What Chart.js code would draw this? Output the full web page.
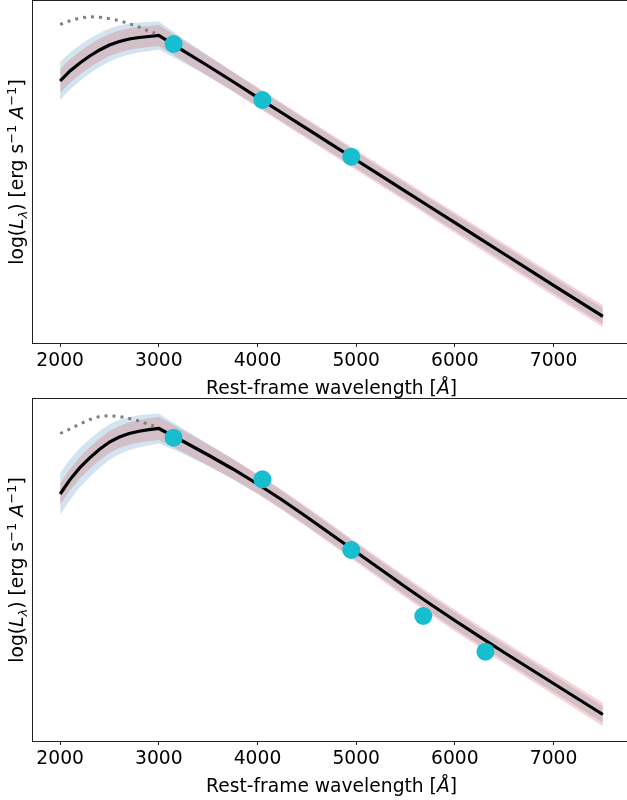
<!DOCTYPE html>
<html>
<head>
<meta charset="utf-8">
<script src="https://cdn.jsdelivr.net/npm/chart.js@4.4.0/dist/chart.umd.min.js"></script>
<style>
    html, body { margin: 0; padding: 0; background: #fff; overflow: hidden; }
    .panel { position: absolute; left: 0; }
    #panel-top { top: 0; }
    #panel-bottom { top: 398px; }
</style>
</head>
<body>
<div class="panel" id="panel-top"><canvas id="sedTop" width="632" height="398"></canvas></div>
<div class="panel" id="panel-bottom"><canvas id="sedBottom" width="632" height="398"></canvas></div>
<script>
// Wavelength grid of the model curves (Angstrom)
const waveGrid = [2000, 2100, 2200, 2300, 2400, 2500, 2600, 2700, 2800, 2900, 3000,
                  3250, 3500, 3750, 4000, 4250, 4500, 4750, 5000, 5250, 5500,
                  5750, 6000, 6250, 6500, 6750, 7000, 7250, 7500];
const xTicks = [2000, 3000, 4000, 5000, 6000, 7000];

// Top panel - log L in arbitrary units (the axis has no numbers)
const topModel = [262, 272, 280, 287, 293, 298, 301.5, 304, 305.5, 306.5, 307.5,
                  292.2, 277, 261.5, 245.7, 230, 214.3, 198.6, 183, 167.3, 151.7,
                  136, 120.4, 104.7, 89, 73.4, 57.7, 42.2, 26.7];
const topBlueWidth = [19, 18.5, 18, 17.5, 17, 16.5, 16, 15.5, 15, 14.5, 14,
                      12, 10.5, 9.5, 9, 8.7, 8.5, 8.3, 8, 8, 8,
                      8, 8, 8, 8, 8, 8, 8, 8];
const topRedWidth = [12, 11.8, 11.6, 11.4, 11.2, 11, 10.9, 10.8, 10.7, 10.6, 10.5,
                     10.3, 10.1, 10, 10, 10, 10, 10, 10, 10, 10,
                     10.1, 10.3, 10.4, 10.5, 10.6, 10.7, 10.8, 11];
const topBbWave = [2000, 2100, 2200, 2300, 2400, 2500, 2600, 2700, 2800, 2900, 2960];
const topBb = [318.5, 322.2, 325, 326.3, 325.8, 324.3, 322.4, 319.3, 316, 311.6, 309.8];
const topPhotWave = [3150, 4050, 4950];
const topPhot = [299, 243, 186.3];

// Bottom panel
const botModel = [247, 261.4, 273.3, 283.1, 291.7, 299, 304, 307.5, 309.8, 311.3, 312.5,
                  299.5, 286, 272, 257, 241, 224, 206.5, 189, 171.5, 154,
                  137, 120.5, 104.3, 88.5, 73, 57.5, 42, 26.5];
const botBlueWidth = [21, 20.3, 19.6, 19, 18.4, 17.8, 17.2, 16.6, 16, 15.5, 15,
                      12.5, 11, 10, 9.3, 9, 8.7, 8.5, 8.4, 8.3, 8.3,
                      8.3, 8.3, 8.3, 8.3, 8.3, 8.3, 8.3, 8.3];
const botRedWidth = [10.5, 10.6, 10.7, 10.8, 10.9, 11, 11.1, 11.2, 11.3, 11.4, 11.5,
                     11, 10.6, 10.3, 10, 10, 10, 10, 10.1, 10.2, 10.4,
                     10.5, 10.7, 10.8, 11, 11.1, 11.3, 11.5, 11.7];
const botBbWave = [2000, 2100, 2200, 2300, 2400, 2500, 2600, 2700, 2800, 2900, 2950];
const botBb = [307.5, 312, 317, 321.5, 324.5, 325.3, 324.5, 322.5, 320, 316.5, 315];
const botPhotWave = [3150, 4050, 4950, 5680, 6310];
const botPhot = [303.3, 261.7, 191, 125, 89.3];

const FONT = '"DejaVu Sans", sans-serif';
const FONT_SIZE = 18.7;

// axis labels with italic / sub / superscript pieces
const yLabelParts = [
    { text: 'log(' },
    { text: 'L', italic: true },
    { text: 'λ', italic: true, shift: 'sub' },
    { text: ') [erg s' },
    { text: '\u22121', shift: 'sup' },
    { text: ' ' },
    { text: 'A', italic: true },
    { text: '\u22121', shift: 'sup' },
    { text: ']' }
];
const xLabelParts = [
    { text: 'Rest-frame wavelength [' },
    { text: 'Å', italic: true },
    { text: ']' }
];

function pts(xs, ys) {
    return xs.map((x, i) => ({ x: x, y: ys[i] }));
}

function band(model, width, sign) {
    return waveGrid.map((w, i) => ({ x: w, y: model[i] + sign * width[i] }));
}

function partFont(p) {
    const size = p.shift ? FONT_SIZE * 0.7 : FONT_SIZE;
    return (p.italic ? 'italic ' : '') + size + 'px ' + FONT;
}

function drawRich(ctx, parts) {
    // draws centred on x = 0, baseline y = 0
    let total = 0;
    parts.forEach(p => {
        ctx.font = partFont(p);
        total += ctx.measureText(p.text).width;
    });
    let x = -total / 2;
    ctx.textBaseline = 'alphabetic';
    ctx.textAlign = 'left';
    parts.forEach(p => {
        ctx.font = partFont(p);
        let dy = 0;
        if (p.shift === 'sub') dy = FONT_SIZE * 0.2;
        if (p.shift === 'sup') dy = -FONT_SIZE * 0.4;
        ctx.fillText(p.text, x, dy);
        x += ctx.measureText(p.text).width;
    });
}

const frameAndLabels = {
    id: 'frameAndLabels',
    afterDraw(chart) {
        const ctx = chart.ctx;
        const a = chart.chartArea;
        ctx.save();
        ctx.strokeStyle = '#222';
        ctx.lineWidth = 1;
        ctx.strokeRect(Math.round(a.left) - 0.5, Math.round(a.top) - 0.5,
                       Math.round(a.right - a.left) + 1, Math.round(a.bottom - a.top) + 1);
        ctx.fillStyle = '#000';

        // x axis title
        ctx.save();
        ctx.translate((a.left + a.right) / 2, a.bottom + 50.6);
        drawRich(ctx, xLabelParts);
        ctx.restore();

        // y axis title
        ctx.save();
        ctx.translate(a.left - 10, (a.top + a.bottom) / 2);
        ctx.rotate(-Math.PI / 2);
        drawRich(ctx, yLabelParts);
        ctx.restore();

        ctx.restore();
    }
};

function makeChart(id, model, blueW, redW, bbWave, bb, photWave, phot) {
    const hidden = { borderColor: 'rgba(0,0,0,0)', pointRadius: 0, fill: false };
    return new Chart(document.getElementById(id), {
        type: 'line',
        data: {
            datasets: [
                Object.assign({}, hidden, { data: band(model, blueW, -1), order: 7 }),
                Object.assign({}, hidden, { data: band(model, blueW, 1), order: 6,
                    fill: 0, backgroundColor: 'rgba(31,119,180,0.2)' }),
                Object.assign({}, hidden, { data: band(model, redW, -1), order: 5 }),
                Object.assign({}, hidden, { data: band(model, redW, 1), order: 4,
                    fill: 2, backgroundColor: 'rgba(214,39,40,0.2)' }),
                {
                    data: pts(waveGrid, model), order: 3,
                    borderColor: '#000', borderWidth: 3.2, pointRadius: 0, fill: false
                },
                {
                    data: pts(bbWave, bb), order: 2,
                    borderColor: '#808080', borderWidth: 3, borderDash: [3, 5],
                    borderCapStyle: 'butt', pointRadius: 0, fill: false
                },
                {
                    data: pts(photWave, phot), order: 1, showLine: false,
                    pointRadius: 9, pointBackgroundColor: '#17becf',
                    pointBorderWidth: 0, pointBorderColor: '#17becf'
                }
            ]
        },
        options: {
            responsive: false,
            devicePixelRatio: 1,
            animation: false,
            events: [],
            layout: { autoPadding: false, padding: { top: 1, left: 33, right: 2, bottom: 0 } },
            plugins: { legend: { display: false }, tooltip: { enabled: false } },
            scales: {
                x: {
                    type: 'linear',
                    min: 1725,
                    max: 7775,
                    afterFit: s => { s.height = 55; },
                    afterBuildTicks: s => { s.ticks = xTicks.map(v => ({ value: v })); },
                    border: { display: false },
                    grid: { drawOnChartArea: false, drawTicks: true, tickLength: 4, color: '#222' },
                    ticks: {
                        color: '#000',
                        font: { family: FONT, size: FONT_SIZE },
                        padding: 3,
                        maxRotation: 0,
                        autoSkip: false,
                        callback: v => String(v)
                    }
                },
                y: { display: false, min: 0, max: 342 }
            }
        },
        plugins: [frameAndLabels]
    });
}

makeChart('sedTop', topModel, topBlueWidth, topRedWidth, topBbWave, topBb, topPhotWave, topPhot);
makeChart('sedBottom', botModel, botBlueWidth, botRedWidth, botBbWave, botBb, botPhotWave, botPhot);
</script>
</body>
</html>
